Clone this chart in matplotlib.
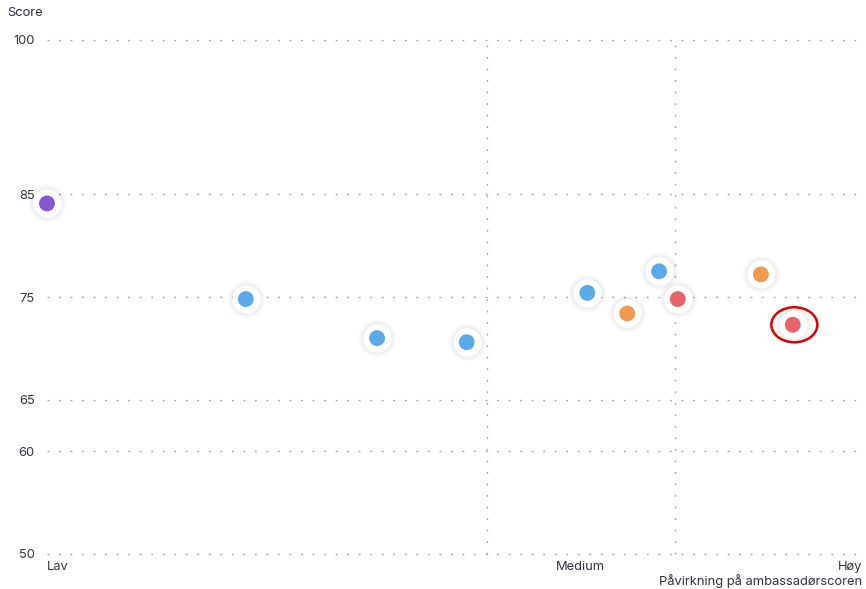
import matplotlib
matplotlib.use("Agg")
import matplotlib.pyplot as plt
from matplotlib.patches import Ellipse

plt.rcParams["font.family"] = ["Inter", "DejaVu Sans"]

# Data
impact = [0.0, 24.4, 40.5, 51.5, 66.3, 71.2, 75.1, 77.4, 87.6, 91.5]
score = [84.1, 74.8, 71.0, 70.6, 75.4, 73.4, 77.5, 74.8, 77.2, 72.3]
colors = ["#8457CF", "#5AA9E9", "#5AA9E9", "#5AA9E9", "#5AA9E9",
          "#F09A50", "#5AA9E9", "#E9636B", "#F09A50", "#E9636B"]
highlight_index = 9

y_ticks = [50, 60, 65, 75, 85, 100]
x_tick_pos = [0, 65.5, 100]
x_tick_labels = ["Lav", "Medium", "Høy"]
x_dividers = [54, 77]

text_color = "#2f3440"
grid_color = "#9aa2b1"
fs = 9.3

fig = plt.figure(figsize=(8.66, 5.89), dpi=100)
ax = fig.add_axes([47 / 866, 1 - 554 / 589, (862 - 47) / 866, (554 - 40) / 589])
ax.set_xlim(0, 100)
ax.set_ylim(50, 100)

for s in ax.spines.values():
    s.set_visible(False)

ax.set_yticks(y_ticks)
ax.set_yticklabels([str(v) for v in y_ticks])
ax.set_xticks(x_tick_pos)
ax.set_xticklabels(x_tick_labels)
ax.tick_params(axis="both", length=0, colors=text_color, labelsize=fs)
ax.tick_params(axis="y", pad=9)
ax.tick_params(axis="x", pad=5)
xl = ax.get_xticklabels()
xl[0].set_ha("left")
xl[2].set_ha("right")

for y in y_ticks:
    ax.axhline(y, color=grid_color, linestyle=(0, (1.3, 7)), linewidth=1.0, zorder=1, clip_on=False)
for x in x_dividers:
    ax.axvline(x, color=grid_color, linestyle=(0, (1.3, 7)), linewidth=1.0, zorder=1, clip_on=False)

# soft shadow, white halo, coloured dot
for k in [760, 690, 630, 570, 520, 470, 440]:
    ax.scatter(impact, score, s=k, color="#000000", alpha=0.012, linewidths=0, zorder=3, clip_on=False)
ax.scatter(impact, score, s=420, color="white", linewidths=0, zorder=4, clip_on=False)
ax.scatter(impact, score, s=130, c=colors, linewidths=0, zorder=5, clip_on=False)

hx, hy = impact[highlight_index], score[highlight_index]
ax.add_patch(Ellipse((hx + 0.2, hy), width=46 / 8.15, height=35 / 10.28,
                     fill=False, edgecolor="#E00000", linewidth=1.8, zorder=6, clip_on=False))

fig.text(7 / 866, 1 - 13 / 589, "Score", ha="left", va="center", fontsize=fs, color=text_color)
fig.text(862 / 866, 1 - 581 / 589, "Påvirkning på ambassadørscoren", ha="right", va="center",
         fontsize=fs, color=text_color)

fig.savefig("out.png", dpi=100)
